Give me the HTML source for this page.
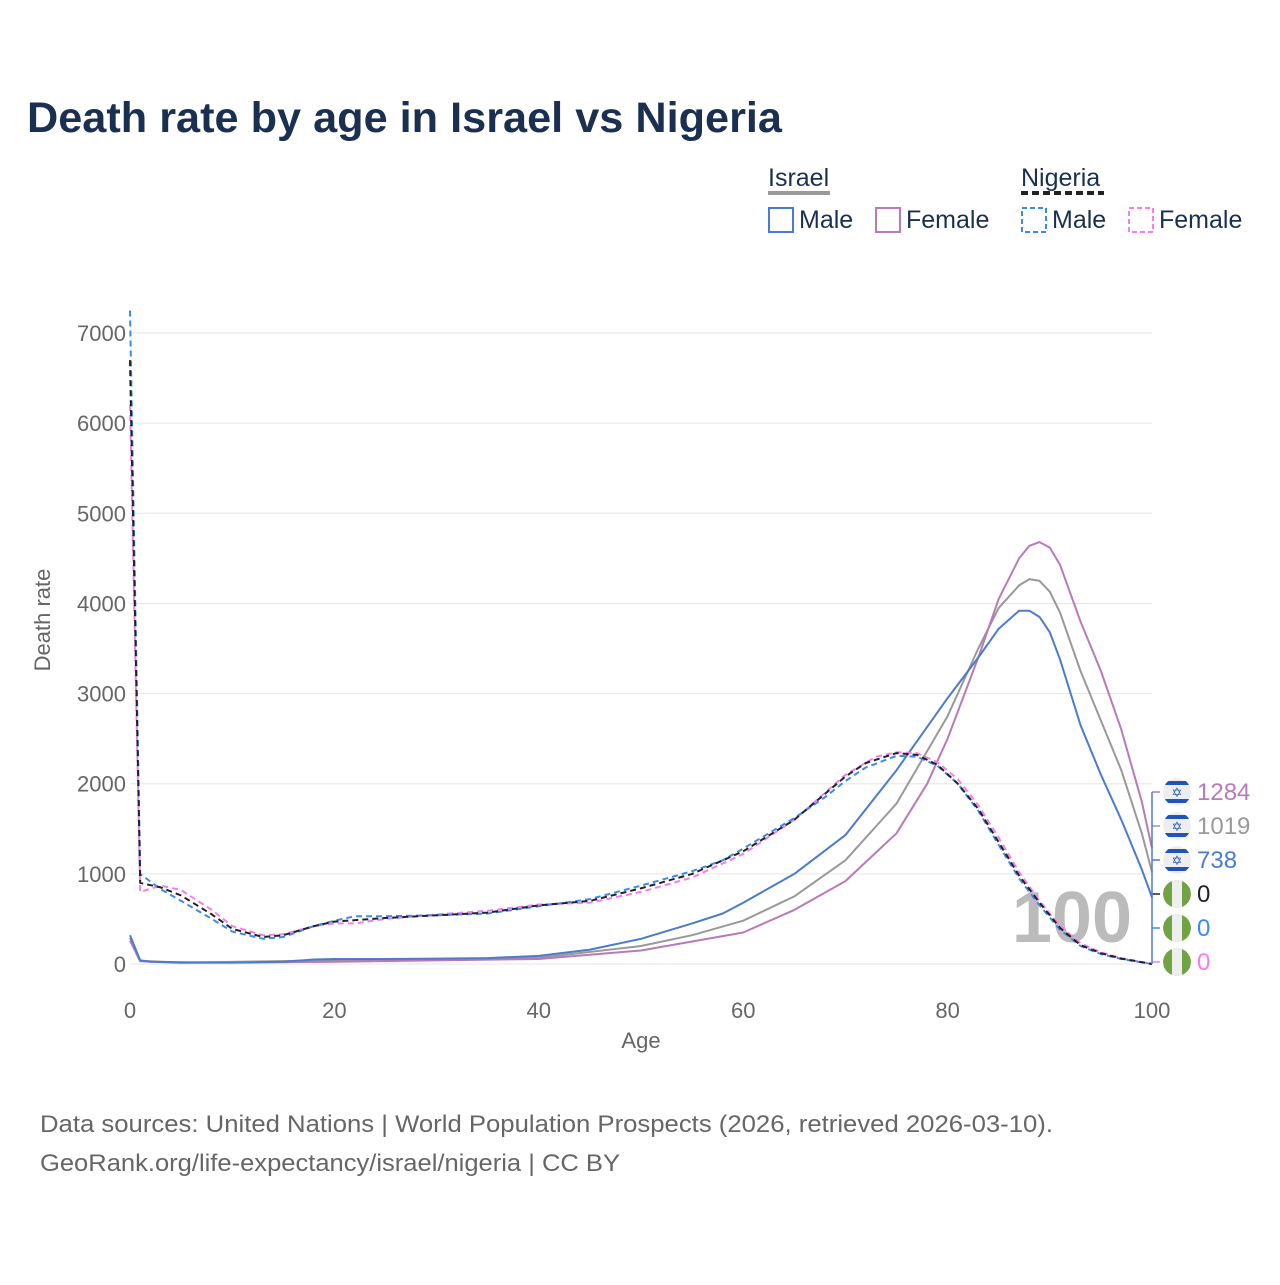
<!DOCTYPE html>
<html><head><meta charset="utf-8"><style>
body{margin:0;background:#fff;font-family:"Liberation Sans",sans-serif;}
</style></head><body>
<svg width="1280" height="1280" xmlns="http://www.w3.org/2000/svg" font-family="Liberation Sans, sans-serif">
<defs>
 <clipPath id="fc0"><circle cx="1177" cy="792" r="14"/></clipPath>
 <clipPath id="fc1"><circle cx="1177" cy="826" r="14"/></clipPath>
 <clipPath id="fc2"><circle cx="1177" cy="860" r="14"/></clipPath>
 <clipPath id="fc3"><circle cx="1177" cy="894" r="14"/></clipPath>
 <clipPath id="fc4"><circle cx="1177" cy="928" r="14"/></clipPath>
 <clipPath id="fc5"><circle cx="1177" cy="962" r="14"/></clipPath>
</defs>
<text x="27" y="132" font-size="43" font-weight="bold" fill="#1b3050" textLength="755" lengthAdjust="spacingAndGlyphs">Death rate by age in Israel vs Nigeria</text>
<g font-size="25" fill="#1b3050">
 <text x="768" y="186">Israel</text>
 <line x1="768" y1="193" x2="830" y2="193" stroke="#999" stroke-width="4"/>
 <text x="1021" y="186">Nigeria</text>
 <line x1="1021" y1="193" x2="1104" y2="193" stroke="#222" stroke-width="4" stroke-dasharray="7,4"/>
 <g><rect x="769" y="208" width="24" height="24" fill="none" stroke="#4b7bd0" stroke-width="2"/><text x="799" y="228">Male</text></g>
 <g><rect x="876" y="208" width="24" height="24" fill="none" stroke="#b87ab8" stroke-width="2"/><text x="906" y="228">Female</text></g>
 <g><rect x="1022" y="208" width="24" height="24" fill="none" stroke="#3a8af2" stroke-width="2" stroke-dasharray="5,3"/><text x="1052" y="228">Male</text></g>
 <g><rect x="1129" y="208" width="24" height="24" fill="none" stroke="#f77cf0" stroke-width="2" stroke-dasharray="5,3"/><text x="1159" y="228">Female</text></g>
</g>
<g id="grid"></g>
<text x="1132" y="942" font-size="72" font-weight="bold" fill="#bbb" text-anchor="end">100</text>
<g id="series"></g>
<g id="labels"></g>
<text x="50" y="620" font-size="22" fill="#666" text-anchor="middle" transform="rotate(-90 50 620)">Death rate</text>
<text x="641" y="1048" font-size="22" fill="#666" text-anchor="middle">Age</text>
<text x="40" y="1132" font-size="24" fill="#666" textLength="1013" lengthAdjust="spacingAndGlyphs">Data sources: United Nations | World Population Prospects (2026, retrieved 2026-03-10).</text>
<text x="40" y="1171" font-size="24" fill="#666" textLength="580" lengthAdjust="spacingAndGlyphs">GeoRank.org/life-expectancy/israel/nigeria | CC BY</text>
</svg>
<script>
const yTicks=[0,1000,2000,3000,4000,5000,6000,7000];
const xTicks=[0,20,40,60,80,100];
const isMaleAges=[0,1,2,5,10,15,18,20,25,30,35,40,45,50,55,58,60,65,70,75,80,83,85,87,88,89,90,91,93,95,97,99,100];
const isMaleVals=[320,40,25,20,15,25,50,55,55,60,65,90,160,280,450,560,680,1000,1430,2150,2950,3400,3720,3920,3920,3850,3680,3380,2650,2100,1600,1050,738];
const isBothAges=[0,1,5,20,40,50,55,60,65,70,75,80,83,85,87,88,89,90,91,93,95,97,99,100];
const isBothVals=[290,35,15,40,70,200,320,480,750,1150,1780,2750,3500,3950,4200,4270,4250,4130,3900,3250,2700,2150,1450,1019];
const isFemAges=[0,1,5,20,40,50,55,60,65,70,75,78,80,83,85,87,88,89,90,91,93,95,97,99,100];
const isFemVals=[260,30,12,25,55,150,250,350,600,920,1450,2000,2500,3400,4050,4500,4640,4680,4620,4430,3800,3250,2600,1800,1284];
const ngMaleAges=[0,1,3,5,8,10,13,15,18,20,22,25,30,35,40,45,50,55,58,60,65,68,70,72,75,77,79,81,83,85,87,89,91,93,95,97,100];
const ngMaleVals=[7250,1000,830,700,500,360,280,300,420,480,530,530,540,560,640,720,870,1030,1150,1280,1620,1850,2030,2180,2310,2300,2200,2000,1700,1320,950,650,380,200,110,55,0];
const ngBothAges=[0,1,3,5,8,10,13,15,18,20,25,30,35,40,45,50,55,60,65,70,72,75,77,79,81,83,85,87,89,91,93,95,97,100];
const ngBothVals=[6700,900,850,760,550,390,300,320,420,470,510,540,570,650,700,840,1000,1250,1600,2080,2230,2340,2320,2210,2000,1720,1350,980,680,400,210,120,60,0];
const ngFemAges=[0,1,3,5,8,10,13,15,18,20,22,25,30,35,40,45,50,55,60,65,70,73,75,77,79,81,83,85,87,89,91,93,95,97,100];
const ngFemVals=[6200,800,870,820,600,420,320,330,420,450,450,500,550,590,660,680,800,960,1220,1600,2100,2300,2350,2340,2240,2050,1760,1400,1020,700,420,230,130,65,0];
const endLabels=["1284","1019","738","0","0","0"];
const NS="http://www.w3.org/2000/svg";
const X=a=>130+a*10.22, Y=v=>964-v*0.09014;
function mk(t,at,p){const e=document.createElementNS(NS,t);for(const k in at)e.setAttribute(k,at[k]);p.appendChild(e);return e;}
const grid=document.getElementById('grid');
yTicks.forEach(v=>{
 const l=mk('line',{x1:130,x2:1152,y1:Y(v),y2:Y(v),stroke:'#e6e6e6','stroke-width':1},grid);
 
 
 const t=mk('text',{x:126,y:Y(v)+8,'font-size':22,fill:'#666','text-anchor':'end'},grid);t.textContent=v;
 
 
});
xTicks.forEach(a=>{
 const t=mk('text',{x:X(a),y:1018,'font-size':22,fill:'#666','text-anchor':'middle'},grid);t.textContent=a;
 
 
});
const S=document.getElementById('series');
function line(ages,vals,col,dash,name){
 const d=ages.map((a,i)=>(i?'L':'M')+X(a).toFixed(1)+','+Y(vals[i]).toFixed(1)).join('');
 const p=mk('path',{d:d,fill:'none',stroke:col,'stroke-width':2,'stroke-dasharray':dash||'none','stroke-linejoin':'round'},S);
 
 
}
line(isBothAges,isBothVals,'#999','','israel-both-line');
line(isFemAges,isFemVals,'#b87ab8','','israel-female-line');
line(isMaleAges,isMaleVals,'#4b7bd0','','israel-male-line');
line(ngFemAges,ngFemVals,'#f77cf0','6,4','nigeria-female-line');
line(ngMaleAges,ngMaleVals,'#3a8af2','6,4','nigeria-male-line');
line(ngBothAges,ngBothVals,'#222','6,4','nigeria-both-line');
const L=document.getElementById('labels');
const cols=['#b87ab8','#999','#4b7bd0','#222','#3a8af2','#f77cf0'];
endLabels.forEach((s,i)=>{
 const y=792+i*34;
 const g=mk('g',{},L);
 
 
 mk('line',{x1:1152,x2:1160,y1:y,y2:y,stroke:cols[i],'stroke-width':1.5},g);
 const f=mk('g',{'clip-path':'url(#fc'+i+')'},g);
 if(i<3){
  mk('circle',{cx:1177,cy:y,r:14,fill:'#eee'},f);
  mk('rect',{x:1163,y:y-11,width:28,height:4,fill:'#1f55b8'},f);
  mk('rect',{x:1163,y:y+7,width:28,height:4,fill:'#1f55b8'},f);
  const st=mk('text',{x:1177,y:y+5,'font-size':13,fill:'#1f55b8','text-anchor':'middle'},f);st.textContent='✡';
 } else {
  mk('circle',{cx:1177,cy:y,r:14,fill:'#6fa343'},f);
  mk('rect',{x:1172,y:y-14,width:10,height:28,fill:'#eee'},f);
 }
 const t=mk('text',{x:1197,y:y+8,'font-size':24,fill:cols[i]},g);t.textContent=s;
});
mk('line',{x1:1152,x2:1152,y1:792,y2:964,stroke:'#4b7bd0','stroke-width':1.5},L);
</script>
</body></html>
